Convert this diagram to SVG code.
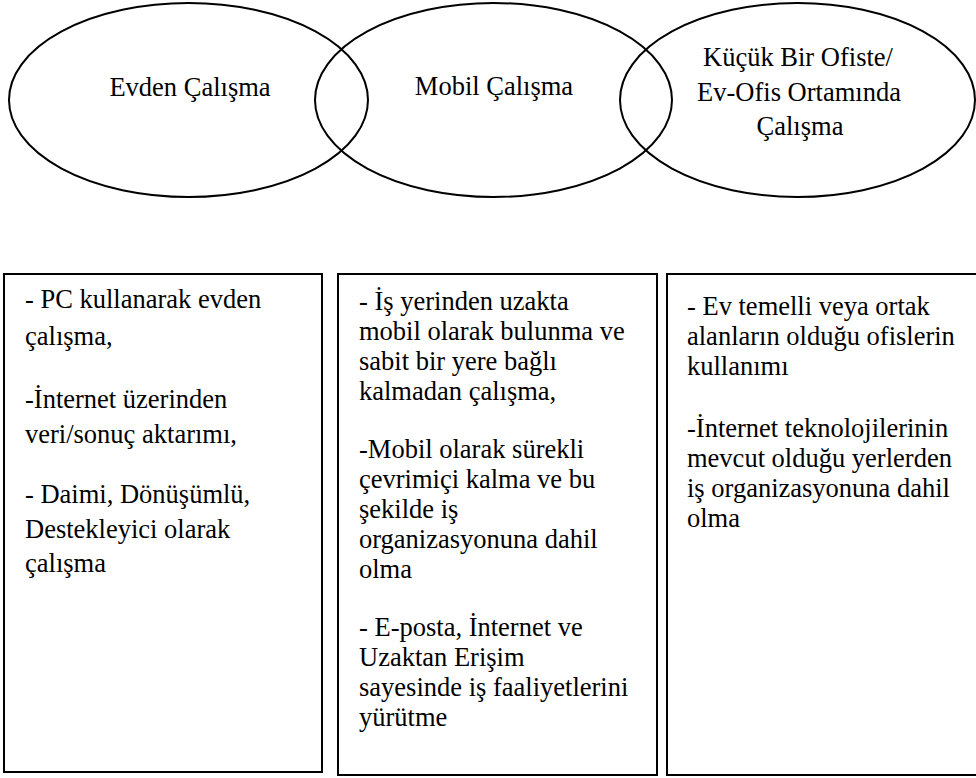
<svg xmlns="http://www.w3.org/2000/svg" width="976" height="778" viewBox="0 0 976 778">
<style>
.bg{fill:#ffffff}
.ell{fill:none;stroke:#000;stroke-width:2}
.box{fill:#ffffff;stroke:#000;stroke-width:2}
.t{font-family:'Liberation Serif','DejaVu Serif',serif;font-size:26.5px;fill:#000}
.c{text-anchor:middle}
</style>
<rect class="bg" x="0" y="0" width="976" height="778"/>
<g id="ellipse-evden">
<ellipse class="ell" cx="188.5" cy="100" rx="179.5" ry="97"/>
<text class="t c" x="190" y="96">Evden Çalışma</text>
</g>
<g id="ellipse-mobil">
<ellipse class="ell" cx="493.5" cy="100" rx="178.5" ry="97"/>
<text class="t c" x="494" y="95">Mobil Çalışma</text>
</g>
<g id="ellipse-ofis">
<ellipse class="ell" cx="797.5" cy="100" rx="177.5" ry="97"/>
<text class="t c" x="798" y="66">Küçük Bir Ofiste/</text>
<text class="t c" x="799" y="101">Ev-Ofis Ortamında</text>
<text class="t c" x="800" y="135">Çalışma</text>
</g>
<g id="connectors"></g>
<g id="box-evden">
<rect class="box" x="4" y="274" width="318" height="498"/>
<text class="t" x="25" y="308">- PC kullanarak evden</text>
<text class="t" x="25" y="345">çalışma,</text>
<text class="t" x="25" y="408">-İnternet üzerinden</text>
<text class="t" x="25" y="443">veri/sonuç aktarımı,</text>
<text class="t" x="25" y="503">- Daimi, Dönüşümlü,</text>
<text class="t" x="25" y="538">Destekleyici olarak</text>
<text class="t" x="25" y="572">çalışma</text>
</g>
<g id="box-mobil">
<rect class="box" x="338" y="274" width="319" height="501"/>
<text class="t" x="359" y="310">- İş yerinden uzakta</text>
<text class="t" x="359" y="340">mobil olarak bulunma ve</text>
<text class="t" x="359" y="370">sabit bir yere bağlı</text>
<text class="t" x="359" y="400">kalmadan çalışma,</text>
<text class="t" x="359" y="458">-Mobil olarak sürekli</text>
<text class="t" x="359" y="488">çevrimiçi kalma ve bu</text>
<text class="t" x="359" y="518">şekilde iş</text>
<text class="t" x="359" y="548">organizasyonuna dahil</text>
<text class="t" x="359" y="578">olma</text>
<text class="t" x="359" y="636">- E-posta, İnternet ve</text>
<text class="t" x="359" y="666">Uzaktan Erişim</text>
<text class="t" x="359" y="696">sayesinde iş faaliyetlerini</text>
<text class="t" x="359" y="726">yürütme</text>
</g>
<g id="box-ofis">
<rect class="box" x="667" y="274" width="318" height="501"/>
<text class="t" x="687" y="315">- Ev temelli veya ortak</text>
<text class="t" x="687" y="345">alanların olduğu ofislerin</text>
<text class="t" x="687" y="375">kullanımı</text>
<text class="t" x="687" y="437">-İnternet teknolojilerinin</text>
<text class="t" x="687" y="467">mevcut olduğu yerlerden</text>
<text class="t" x="687" y="497">iş organizasyonuna dahil</text>
<text class="t" x="687" y="527">olma</text>
</g>
</svg>
